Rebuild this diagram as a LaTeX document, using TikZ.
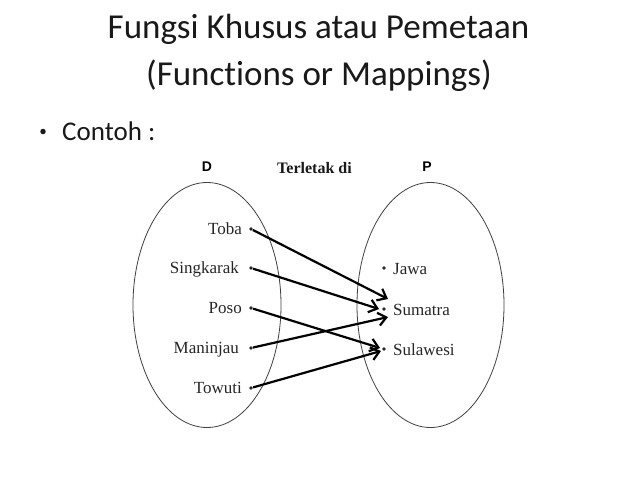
\documentclass[tikz,border=0pt]{standalone}
\usepackage{fontspec}
\setmainfont{Liberation Serif}
\newfontfamily\calib[Ligatures=NoCommon]{Carlito}
\newfontfamily\sansb{Liberation Sans}
\usetikzlibrary{arrows.meta,shapes.geometric}
\begin{document}
\begin{tikzpicture}[x=1pt,y=-1pt,
  title/.style={font=\calib\fontsize{35}{42}\selectfont, anchor=base, inner sep=0, text=black!90},
  bul/.style={font=\calib\fontsize{27}{32}\selectfont, inner sep=0, text=black!90},
  setlbl/.style={font=\sansb\bfseries\fontsize{14}{16}\selectfont, inner sep=0},
  rel/.style={font=\bfseries\fontsize{16}{18}\selectfont, inner sep=0, anchor=base west, text=black!90},
  lblL/.style={font=\fontsize{17}{20}\selectfont, inner sep=0, anchor=base east, text=black!85},
  lblR/.style={font=\fontsize{17}{20}\selectfont, inner sep=0, anchor=base west, text=black!85},
  dot/.style={circle, fill=black!85, inner sep=0, minimum size=3.8pt},
  bdot/.style={circle, fill=black!90, inner sep=0, minimum size=5.5pt},
  setbox/.style={ellipse, draw=black!75, line width=0.8pt, inner sep=0},
  arr/.style={line width=2.2pt, -{Straight Barb[length=8pt, width=13pt, line width=2.2pt]}}]
\useasboundingbox (0,0) rectangle (638,479);
\fill[white] (0,0) rectangle (638,479);
% title
\node[title] (t1) at (318.5,38.5) {Fungsi Khusus atau Pemetaan};
\node[title] (t2) at (319,85) {(Functions or Mappings)};
\node[bul, anchor=base west] (c) at (62,140.5) {Contoh :};
\node[bdot] (b) at (43,131.5) {};
% sets
\node[setbox, minimum width=148pt, minimum height=245pt] (D) at (207,305) {};
\node[setbox, minimum width=147pt, minimum height=245pt] (P) at (430.5,305) {};
\node[setlbl] (Dl) at (207,167) {D};
\node[setlbl] (Pl) at (427,167) {P};
\node[rel] (rl) at (277,173) {Terletak di};
% domain
\node[dot] (toba) at (251,229) {};
\node[dot] (sing) at (251,268) {};
\node[dot] (poso) at (251,308) {};
\node[dot] (mani) at (251,348) {};
\node[dot] (towu) at (251,388) {};
\node[lblL] (tobaT) at (242,234) {Toba};
\node[lblL] (singT) at (239,273.5) {Singkarak};
\node[lblL] (posoT) at (242,313.5) {Poso};
\node[lblL] (maniT) at (239,353.5) {Maninjau};
\node[lblL] (towuT) at (242,393.5) {Towuti};
% codomain
\node[dot] (jawa) at (384,268) {};
\node[dot] (suma) at (384,309) {};
\node[dot] (sula) at (384,349) {};
\node[lblR] (jawaT) at (393,274) {Jawa};
\node[lblR] (sumaT) at (393,315) {Sumatra};
\node[lblR] (sulaT) at (393,355) {Sulawesi};
% arrow tips
\coordinate (tS1) at (388,299);
\coordinate (tS2) at (379,309);
\coordinate (tS3) at (388,317);
\coordinate (tL1) at (380,348);
\coordinate (tL2) at (381,351);
\draw[arr] (toba) -- (tS1);
\draw[arr] (sing) -- (tS2);
\draw[arr] (mani) -- (tS3);
\draw[arr] (poso) -- (tL1);
\draw[arr] (towu) -- (tL2);
\end{tikzpicture}
\end{document}
